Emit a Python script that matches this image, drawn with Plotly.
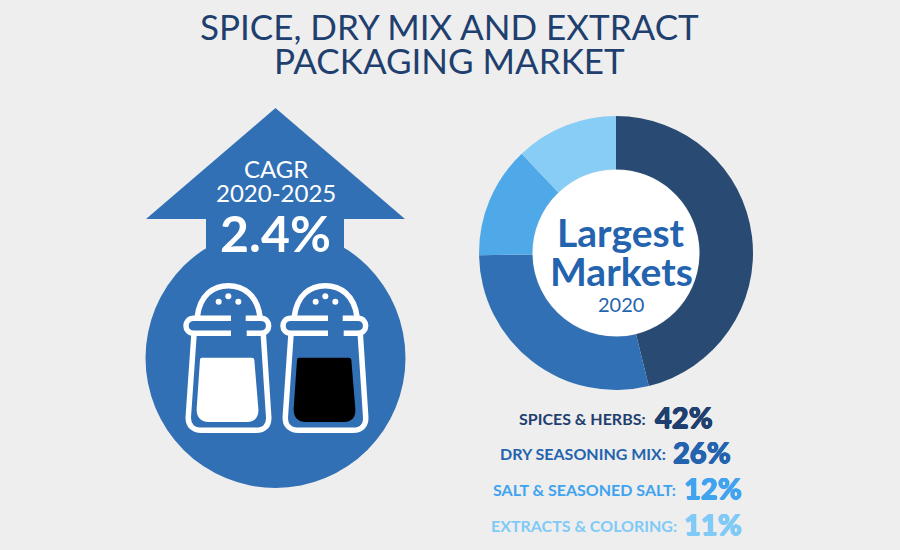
import plotly.graph_objects as go

categories = ["SPICES &amp; HERBS:", "DRY SEASONING MIX:", "SALT &amp; SEASONED SALT:", "EXTRACTS &amp; COLORING:"]
shares = [42, 26, 12, 11]
slice_colors = ["#284a73", "#3270b5", "#4fa9e8", "#88cdf5"]
text_colors = ["#1f3f6e", "#2463ad", "#3fa3ee", "#7fcaf7"]
title_lines = ["SPICE, DRY MIX AND EXTRACT", "PACKAGING MARKET"]

FONT = "Lato"
BLUE = "#3270b5"

fig = go.Figure()
# invisible trace: keeps the pixel-scaled axes alive for shapes and annotations
fig.add_trace(go.Scatter(x=[450], y=[275], mode="markers", marker=dict(size=1, opacity=0),
                         showlegend=False, hoverinfo="skip"))
fig.add_trace(go.Pie(
    values=shares, labels=categories, sort=False, direction="clockwise", rotation=0,
    hole=0.61, marker=dict(colors=slice_colors, line=dict(width=0)), textinfo="none",
    showlegend=False, hoverinfo="skip",
    domain=dict(x=[(616-137)/900, (616+137)/900], y=[1-390/550, 1-116/550]),
))

shapes = []
# arrow head and shaft + circle body
shapes.append(dict(type="circle", x0=145.5, x1=405.5, y0=228, y1=488, fillcolor=BLUE, line_width=0, layer="below"))
shapes.append(dict(type="path", path="M275.5,108 L405,219 L344,219 L344,260 L206,260 L206,219 L146,219 Z",
                   fillcolor=BLUE, line_width=0, layer="below"))
# white donut centre
shapes.append(dict(type="circle", x0=616-83, x1=616+83, y0=253-83, y1=253+83, fillcolor="white", line_width=0, layer="above"))


def shaker(dx, fill):
    def p(x, y):
        return f"{170+dx+x/3:.1f},{275+y/3:.1f}"
    outline = [
        "M" + p(82, 125) + " C" + p(90, 60) + " " + p(130, 32) + " " + p(175, 32) + " C" + p(220, 32) + " " + p(262, 60) + " " + p(270, 125),
        "M" + p(183, 130) + " L" + p(72, 130) + " C" + p(40, 130) + " " + p(40, 175) + " " + p(72, 175) + " L" + p(183, 175),
        "M" + p(227, 130) + " L" + p(272, 130) + " C" + p(304, 130) + " " + p(304, 175) + " " + p(272, 175) + " L" + p(230, 175),
        "M" + p(72, 178) + " L" + p(55, 425) + " C" + p(53, 452) + " " + p(70, 466) + " " + p(95, 466)
        + " L" + p(258, 466) + " C" + p(283, 466) + " " + p(298, 452) + " " + p(296, 425) + " L" + p(280, 178),
    ]
    for d in outline:
        shapes.append(dict(type="path", path=d, line=dict(color="white", width=5.5), layer="above"))
    shapes.append(dict(
        type="path",
        path="M" + p(96, 248) + " L" + p(246, 248) + " Q" + p(252, 248) + " " + p(253, 254)
             + " L" + p(265, 400) + " C" + p(268, 428) + " " + p(252, 441) + " " + p(232, 441)
             + " L" + p(115, 441) + " C" + p(95, 441) + " " + p(78, 428) + " " + p(80, 400)
             + " L" + p(90, 254) + " Q" + p(90, 248) + " " + p(96, 248) + " Z",
        fillcolor=fill, line_width=0, layer="above"))
    for cx, cy in [(146, 80), (175, 64), (205, 80)]:
        x, y = 170 + dx + cx / 3, 275 + cy / 3
        shapes.append(dict(type="circle", x0=x-3, x1=x+3, y0=y-3, y1=y+3, fillcolor="white", line_width=0, layer="above"))


shaker(0, "white")
shaker(97, "black")

annotations = []


def txt(x, y, s, size, color, anchor="center", weight=None, shadow=None):
    font = dict(family=FONT, size=size, color=color, weight=weight)
    if shadow:
        font["shadow"] = shadow
    annotations.append(dict(x=x, y=y, text=s, showarrow=False, xanchor=anchor, yanchor="middle", font=font))


txt(449, 26, title_lines[0], 35, "#1f3f6e")
txt(449, 60, title_lines[1], 35, "#1f3f6e")
txt(275.5, 168, "CAGR", 24, "white")
txt(275.5, 192, "2020-2025", 24, "white")
txt(275.5, 233, "2.4%", 50, "white", weight=700)
txt(621, 232, "Largest", 39, "#2463ad", weight=700)
txt(621, 271, "Markets", 39, "#2463ad", weight=700)
txt(621, 304, "2020", 20, "#2463ad")

rows_y = [418, 453, 489, 525]
label_right = [648, 668, 678, 679]
value_left = [653, 671, 682, 682]
for cat, val, col, y, lx, vx in zip(categories, shares, text_colors, rows_y, label_right, value_left):
    txt(lx, y, f"<b>{cat}</b>", 16, col, anchor="right")
    s = f"0.5px 0 0 {col}, -0.5px 0 0 {col}, 0 0.5px 0 {col}, 0 -0.5px 0 {col}"
    txt(vx, y - 2, f"{val}%", 29, col, anchor="left", weight=900, shadow=s)

fig.update_layout(
    width=900, height=550, margin=dict(l=0, r=0, t=0, b=0),
    paper_bgcolor="#eeeeee", plot_bgcolor="#eeeeee",
    xaxis=dict(range=[0, 900], visible=False, fixedrange=True),
    yaxis=dict(range=[550, 0], visible=False, fixedrange=True),
    shapes=shapes, annotations=annotations,
)
fig.write_html("out.html", config=dict(displayModeBar=False),
               post_script="document.body.style.margin='0';document.body.style.overflow='hidden';")
